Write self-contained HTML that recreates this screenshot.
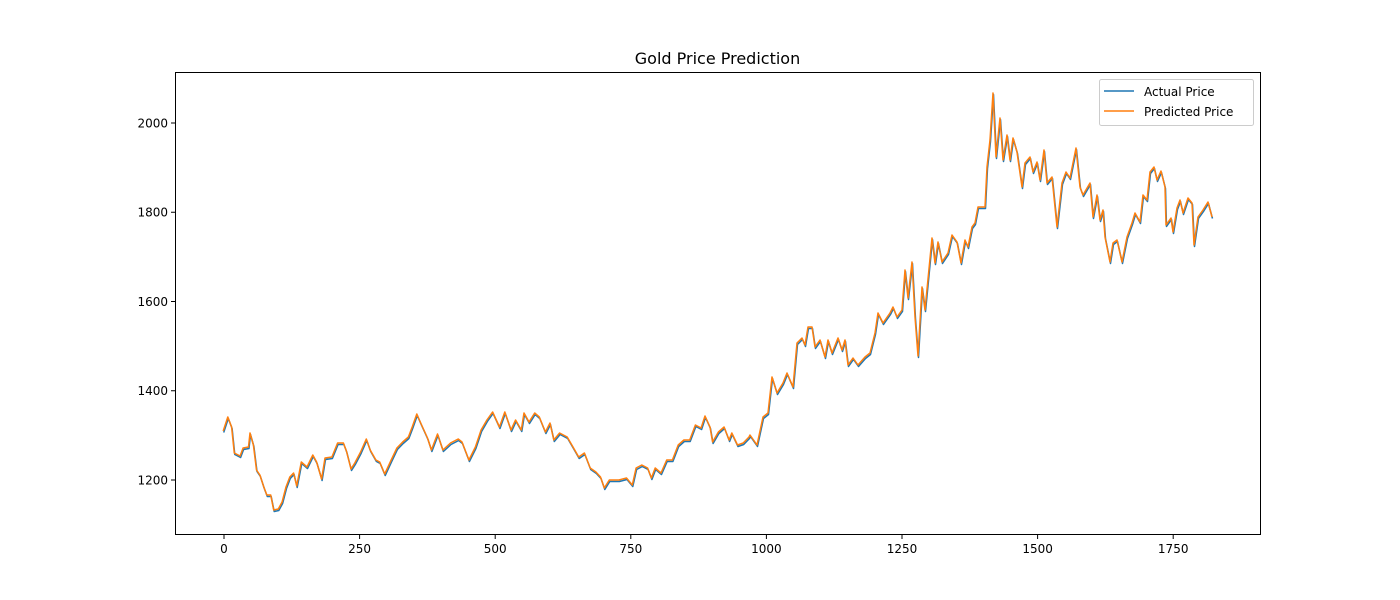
<!DOCTYPE html>
<html><head><meta charset="utf-8"><style>html,body{margin:0;padding:0;background:#fff}svg{display:block}text{font-family:"DejaVu Sans","Liberation Sans",sans-serif;font-size:12px;fill:#000}</style></head>
<body>
<svg width="1400" height="600" viewBox="0 0 1400 600" xmlns="http://www.w3.org/2000/svg">
<rect width="1400" height="600" fill="#fff"/>
<text x="717.5" y="64" text-anchor="middle" style="font-size:16px">Gold Price Prediction</text>
<defs>
<polyline id="p" fill="none" stroke-width="1.5" stroke-linejoin="round" points="223.2,431 227.8,417 231.6,427 234.3,453 240.1,456 243.1,448 248.5,447 250,433 253.4,445 256.5,470 259.9,475 263.8,487 266.8,495 270.7,495 273.7,510 278.3,509 282.1,502 286,487 289.8,477 293.6,473 296.7,486 301.3,462 307,467 312.8,455 316.6,462 321.6,479 325,458 331.9,457 337.6,443 343.4,443 346.4,451 351,469 354.8,463 360.6,452 366.3,439 370.2,450 375.9,460 379.7,462 384.7,474 391.2,460 396.9,448 402.7,442 408.4,437 412.2,427 416.8,414 420.7,423 427.5,438 431.4,450 437.5,434 442.9,450 450.5,443 458.2,439 462,442 468.9,460 475.4,447 481.1,430 486.9,420 492.6,412 499.5,427 504.8,412 511,430 515.6,420 521.3,430 524,413 529,422 534.7,413 539.3,417 545.4,432 550,423 553.8,440 559.6,433 567.2,437 573,447 578.7,457 584.4,453 590.2,468 595.9,472 600.5,477 604.3,488 609.3,480 618.9,480 626.5,478 632.3,485 636.1,468 641.8,465 647.6,468 651.4,478 655.2,468 661,473 666.7,460 672.4,460 678.2,445 683.9,440 689.7,440 695.4,425 701.1,428 705,416 710,427 712.6,442 718.4,432 724.1,427 729.1,440 731.8,433 737.5,445 743.2,443 749,437 750,435 757,445 763,417 768,413 772,377 777,393 783,383 787,373 793,387 797,343 802,338 805,345 808,327 812,327 815,347 820,340 825,357 828,340 832,353 838,338 842,350 845,340 848,365 853,358 858,365 865,357 870,353 875,333 878,313 883,323 890,313 893,307 897,317 902,310 905,270 908,298 912,262 915,317 918,356 922,287 925,310 932,238 935,263 938,242 942,262 948,253 952,235 957,242 961,263 965,240 968,247 972,227 975,223 978,207 985,207 987,167 990,140 993,93 996,157 1000,118 1003,160 1007,135 1010,160 1013,138 1017,152 1022,187 1025,163 1030,157 1033,172 1037,162 1040,180 1044,150 1047,183 1052,177 1057,227 1062,183 1066,172 1070,178 1076,148 1080,187 1083,195 1090,183 1093,217 1097,195 1100,220 1103,210 1105,237 1110,262 1113,243 1117,240 1122,262 1127,237 1132,223 1135,213 1140,222 1143,195 1147,200 1150,172 1154,167 1157,180 1161,171 1165,187 1166,225 1171,218 1173,232 1177,208 1180,200 1183,213 1188,198 1192,203 1194,245 1198,217 1203,210 1208,202 1212,217"/>
</defs>
<use href="#p" stroke="#1f77b4" transform="translate(0.5,1.5)"/>
<use href="#p" stroke="#ff7f0e"/>
<rect x="175.5" y="72.5" width="1085" height="462" fill="none" stroke="#000" stroke-width="1"/>
<g stroke="#000" stroke-width="1">
<line x1="224" y1="535" x2="224" y2="539"/><line x1="359.6" y1="535" x2="359.6" y2="539"/><line x1="495.2" y1="535" x2="495.2" y2="539"/><line x1="630.8" y1="535" x2="630.8" y2="539"/><line x1="766.4" y1="535" x2="766.4" y2="539"/><line x1="902" y1="535" x2="902" y2="539"/><line x1="1037.6" y1="535" x2="1037.6" y2="539"/><line x1="1173.2" y1="535" x2="1173.2" y2="539"/>
<line x1="171" y1="480" x2="175" y2="480"/><line x1="171" y1="390.75" x2="175" y2="390.75"/><line x1="171" y1="301.5" x2="175" y2="301.5"/><line x1="171" y1="212.25" x2="175" y2="212.25"/><line x1="171" y1="123" x2="175" y2="123"/>
</g>
<g text-anchor="middle">
<text x="224" y="553">0</text><text x="359.6" y="553">250</text><text x="495.2" y="553">500</text><text x="630.8" y="553">750</text><text x="766.4" y="553">1000</text><text x="902" y="553">1250</text><text x="1037.6" y="553">1500</text><text x="1173.2" y="553">1750</text>
</g>
<g text-anchor="end">
<text x="168" y="484.5">1200</text><text x="168" y="395.2">1400</text><text x="168" y="306">1600</text><text x="168" y="216.7">1800</text><text x="168" y="127.5">2000</text>
</g>
<rect x="1099.5" y="79.5" width="154" height="46" rx="2" fill="#fff" fill-opacity="0.8" stroke="#ccc"/>
<line x1="1104" y1="91" x2="1134" y2="91" stroke="#1f77b4" stroke-width="1.5"/>
<text x="1144" y="96">Actual Price</text>
<line x1="1104" y1="111" x2="1134" y2="111" stroke="#ff7f0e" stroke-width="1.5"/>
<text x="1144" y="116">Predicted Price</text>
</svg>
</body></html>
